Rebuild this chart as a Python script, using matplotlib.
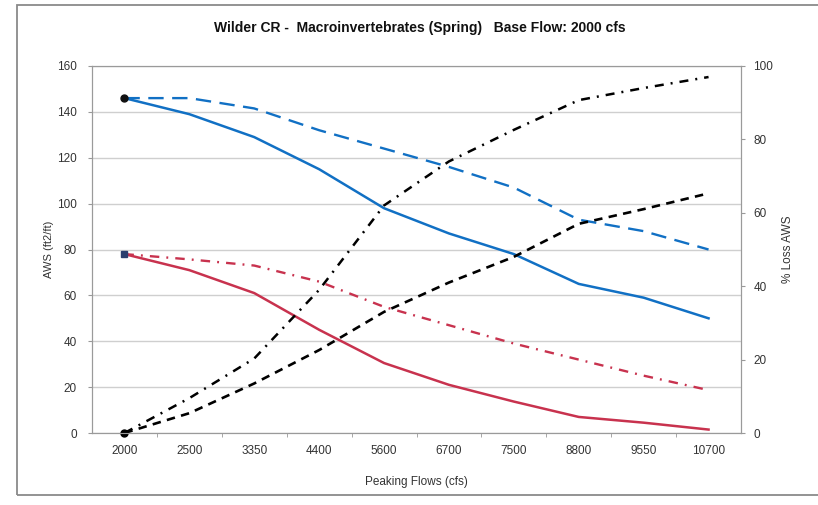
import matplotlib
matplotlib.use("Agg")
import matplotlib.pyplot as plt
from matplotlib.patches import Rectangle

# peaking flow categories (cfs)
flows = ['2000', '2500', '3350', '4400', '5600', '6700', '7500', '8800', '9550', '10700']

# AWS (ft2/ft), left axis
aws_blue_solid = [146, 139, 129, 115, 98, 87, 78, 65, 59, 50]
aws_blue_dash = [146, 146, 141.5, 132, 124, 116, 107, 93, 88, 80]
aws_red_solid = [78, 71, 61, 45, 30.5, 21, 13.7, 7, 4.5, 1.5]
aws_red_dashdot = [78, 75.7, 73, 66, 55, 47, 39, 32, 25, 18.7]

# % loss AWS, right axis
loss_dashdot = [0, 9.5, 20.3, 39, 62, 74, 82.6, 90.7, 94, 97]
loss_dash = [0, 5.4, 13.5, 22.6, 33, 41, 48, 57, 61, 65.3]

plt.rcParams['font.family'] = ['Liberation Sans', 'DejaVu Sans']

fig = plt.figure(figsize=(8.18, 5.05), dpi=100)
# outer chart frame
fig.patches.append(Rectangle((17 / 818, 10 / 505), 1.0, 490 / 505, transform=fig.transFigure,
                             fill=False, edgecolor='#8a8a8a', lw=1.3))

ax1 = fig.add_axes([92 / 818, 72 / 505, 649 / 818, 367 / 505])
x = list(range(len(flows)))

blue = '#1170c4'
red = '#c8324e'
grid_c = '#cfcfcf'

ax1.plot(x, aws_blue_dash, color=blue, lw=1.7, dashes=(6.5, 3.6))
ax1.plot(x, aws_blue_solid, color=blue, lw=1.8)
ax1.plot(x, aws_red_dashdot, color=red, lw=1.7, dashes=(4, 3, 0.8, 3))
ax1.plot(x, aws_red_solid, color=red, lw=1.8)
ax1.plot([x[0]], [aws_blue_solid[0]], 'o', color='#111111', ms=5)
ax1.plot([x[0]], [aws_red_solid[0]], 's', color='#2b3f6e', ms=4)

ax1.set_xlim(-0.5, len(flows) - 0.5)
ax1.set_ylim(0, 160)
ax1.set_yticks(range(0, 161, 20))
ax1.set_xticks(x)
ax1.set_xticklabels(flows)
ax1.set_xticks([i + 0.5 for i in range(len(flows) - 1)], minor=True)
ax1.yaxis.grid(True, color=grid_c, lw=1)
ax1.set_axisbelow(True)
ax1.tick_params(axis='x', which='major', length=0, pad=9, labelsize=8.5, colors='#333333')
ax1.tick_params(axis='x', which='minor', length=3, color='#999999')
ax1.tick_params(axis='y', length=3, pad=8, labelsize=8.5, colors='#333333', color='#999999')
for s in ax1.spines.values():
    s.set_color('#9a9a9a')
ax1.set_ylabel('AWS (ft2/ft)', fontsize=8, color='#333333', labelpad=2)
ax1.set_xlabel('Peaking Flows (cfs)', fontsize=8.5, color='#333333', labelpad=13)

ax2 = ax1.twinx()
ax2.plot(x, loss_dashdot, color='#000000', lw=1.8, dashes=(3.6, 2.8, 0.8, 2.8))
ax2.plot(x, loss_dash, color='#000000', lw=1.9, dashes=(3.2, 2.4))
ax2.plot([x[0]], [0], 'o', color='#000000', ms=5, clip_on=False)
ax2.set_ylim(0, 100)
ax2.set_yticks(range(0, 101, 20))
ax2.tick_params(axis='y', length=3, pad=6, labelsize=8.5, colors='#333333', color='#999999')
for s in ax2.spines.values():
    s.set_color('#9a9a9a')
ax2.set_ylabel('% Loss AWS', fontsize=8.5, color='#333333', labelpad=6)

fig.text(420 / 818, 1 - 28 / 505, 'Wilder CR -  Macroinvertebrates (Spring)   Base Flow: 2000 cfs',
         ha='center', va='center', fontsize=10, fontweight='bold', color='#111111')

fig.savefig('out.png', dpi=100)
